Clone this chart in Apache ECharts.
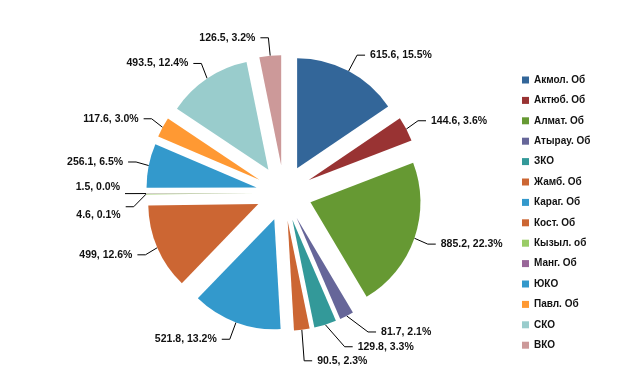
<!DOCTYPE html>
<html><head><meta charset="utf-8">
<script src="https://cdn.jsdelivr.net/npm/echarts@6/dist/echarts.min.js"></script>
<style>html,body{margin:0;padding:0;background:#fff}#c{width:626px;height:384px}</style>
</head><body><div id="c"></div>
<script>
var categories = ['Акмол. Об','Актюб. Об','Алмат. Об','Атырау. Об','ЗКО','Жамб. Об','Караг. Об','Кост. Об','Кызыл. об','Манг. Об','ЮКО','Павл. Об','СКО','ВКО'];
var values = [615.6,144.6,885.2,81.7,129.8,90.5,521.8,499,4.6,1.5,256.1,117.6,493.5,126.5];
var colors = ['#336699','#993333','#669933','#666699','#339999','#CC6633','#3399CC','#CC6633','#99CC66','#996699','#3399CC','#FF9933','#99CCCC','#CC9999'];

var total = values.reduce(function(a,b){return a+b;},0);
var data = categories.map(function(n,i){
  return {name:n, value:values[i], selected:true, itemStyle:{color:colors[i]}};
});
var chart = echarts.init(document.getElementById('c'), null, {renderer:'canvas'});
chart.setOption({
  animation:false,
  legend:{
    orient:'vertical', left:517, top:70, itemWidth:7, itemHeight:7, itemGap:10.4,
    icon:'rect',
    textStyle:{fontFamily:'Liberation Sans', fontWeight:'bold', fontSize:10, color:'#111'},
    data:categories
  },
  series:[{
    type:'pie',
    center:[284,193],
    radius:[0,110],
    startAngle:90,
    clockwise:true,
    selectedMode:'multiple',
    selectedOffset:28,
    avoidLabelOverlap:true,
    data:data,
    emphasis:{disabled:true},
    label:{
      show:true, position:'outside',
      fontFamily:'Liberation Sans', fontWeight:'bold', fontSize:10.5, color:'#111',
      formatter:function(p){return p.value + ', ' + (p.value/total*100).toFixed(1) + '%';}
    },
    labelLayout:function(p){
      if (p.dataIndex === 8) return {dy:8};
      if (p.dataIndex === 9) return {dy:-6};
      return {};
    },
    labelLine:{show:true, length:18, length2:8, lineStyle:{color:'#000', width:1}}
  }]
});
</script></body></html>
